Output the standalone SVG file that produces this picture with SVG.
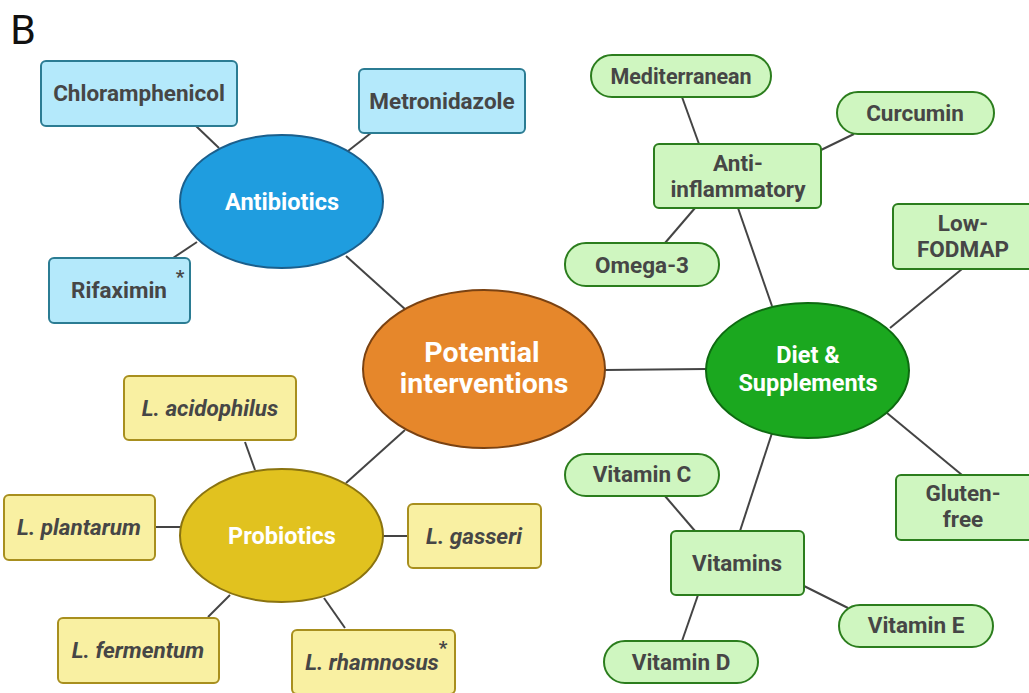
<svg xmlns="http://www.w3.org/2000/svg" width="1029" height="693" viewBox="0 0 1029 693">
<style>
text{font-family:Roboto,"Liberation Sans",sans-serif;font-weight:bold;text-anchor:middle}
.t{fill:#464646;font-size:22.5px}
.w{fill:#ffffff;font-size:23.5px}
.it{font-style:italic}
.blue{fill:#b4e9fb;stroke:#2b7c93;stroke-width:2}
.yel{fill:#f9f0a2;stroke:#a88f1e;stroke-width:2}
.grn{fill:#cff6c0;stroke:#2b7d1d;stroke-width:2}
.ln{stroke:#444;stroke-width:2;fill:none}
</style>
<rect width="1029" height="693" fill="#ffffff"/>
<text x="23" y="44" style="font-family:Roboto,'Liberation Sans',sans-serif;font-weight:normal;font-size:41px;fill:#111">B</text>
<g id="connectors">
<line class="ln" x1="196" y1="126" x2="219" y2="148"/>
<line class="ln" x1="371" y1="133" x2="348" y2="151"/>
<line class="ln" x1="173" y1="258" x2="197" y2="242"/>
<line class="ln" x1="346" y1="256" x2="406" y2="310"/>
<line class="ln" x1="605" y1="370" x2="706" y2="369"/>
<line class="ln" x1="346" y1="483" x2="405" y2="430"/>
<line class="ln" x1="245" y1="442" x2="255" y2="470"/>
<line class="ln" x1="155" y1="527" x2="180" y2="527"/>
<line class="ln" x1="383" y1="536" x2="408" y2="536"/>
<line class="ln" x1="208" y1="617" x2="230" y2="595"/>
<line class="ln" x1="324" y1="598" x2="345" y2="628"/>
<line class="ln" x1="682" y1="97" x2="699" y2="144"/>
<line class="ln" x1="854" y1="134" x2="821" y2="150"/>
<line class="ln" x1="695" y1="208" x2="665" y2="243"/>
<line class="ln" x1="738" y1="208" x2="772" y2="306"/>
<line class="ln" x1="962" y1="269" x2="890" y2="328"/>
<line class="ln" x1="772" y1="433" x2="740" y2="531"/>
<line class="ln" x1="887" y1="413" x2="962" y2="475"/>
<line class="ln" x1="665" y1="496" x2="695" y2="531"/>
<line class="ln" x1="804" y1="586" x2="848" y2="608"/>
<line class="ln" x1="698" y1="595" x2="682" y2="641"/>
</g>
<g id="chloramphenicol"><rect class="blue" x="41" y="61" width="196" height="65" rx="5"/><text class="t" x="139" y="101">Chloramphenicol</text></g>
<g id="metronidazole"><rect class="blue" x="359" y="69" width="166" height="64" rx="5"/><text class="t" x="442" y="109">Metronidazole</text></g>
<g id="rifaximin"><rect class="blue" x="49" y="258" width="141" height="65" rx="5"/><text class="t" x="119" y="298">Rifaximin</text><text class="t" x="180" y="283" style="font-size:19px">*</text></g>
<g id="antibiotics"><ellipse cx="281.5" cy="201.5" rx="101.5" ry="66.5" fill="#1f9ddf" stroke="#1b5f8c" stroke-width="2"/><text class="w" x="282" y="210">Antibiotics</text></g>
<g id="potential"><ellipse cx="484" cy="369" rx="121" ry="79" fill="#e6872b" stroke="#7a4212" stroke-width="2"/><text class="w" x="482" y="362" style="font-size:28.5px">Potential</text><text class="w" x="484" y="393" style="font-size:28.5px">interventions</text></g>
<g id="probiotics"><ellipse cx="281.5" cy="535.5" rx="101.5" ry="66.5" fill="#e1c21f" stroke="#8a7310" stroke-width="2"/><text class="w" x="282" y="544">Probiotics</text></g>
<g id="acidophilus"><rect class="yel" x="124" y="376" width="172" height="64" rx="5"/><text class="t it" x="210" y="416">L. acidophilus</text></g>
<g id="plantarum"><rect class="yel" x="4" y="495" width="151" height="65" rx="5"/><text class="t it" x="79" y="535">L. plantarum</text></g>
<g id="gasseri"><rect class="yel" x="408" y="504" width="133" height="64" rx="5"/><text class="t it" x="474" y="544">L. gasseri</text></g>
<g id="fermentum"><rect class="yel" x="58" y="618" width="161" height="65" rx="5"/><text class="t it" x="138" y="658">L. fermentum</text></g>
<g id="rhamnosus"><rect class="yel" x="292" y="630" width="163" height="64" rx="5"/><text class="t it" x="372" y="670">L. rhamnosus</text><text class="t" x="443" y="654" style="font-size:19px">*</text></g>
<g id="diet"><ellipse cx="807.5" cy="370.5" rx="101.5" ry="67.5" fill="#1ba81f" stroke="#0e6a11" stroke-width="2"/><text class="w" x="808" y="363">Diet &amp;</text><text class="w" x="808" y="391">Supplements</text></g>
<g id="antiinflammatory"><rect class="grn" x="654" y="144" width="167" height="64" rx="5"/><text class="t" x="738" y="171">Anti-</text><text class="t" x="738" y="197">inflammatory</text></g>
<g id="mediterranean"><rect class="grn" x="591" y="55" width="180" height="42" rx="21"/><text class="t" x="681" y="84" style="font-size:21.5px">Mediterranean</text></g>
<g id="curcumin"><rect class="grn" x="837" y="92" width="157" height="42" rx="21"/><text class="t" x="915" y="121">Curcumin</text></g>
<g id="omega3"><rect class="grn" x="565" y="243" width="154" height="43" rx="21"/><text class="t" x="642" y="273">Omega-3</text></g>
<g id="lowfodmap"><rect class="grn" x="893" y="204" width="140" height="65" rx="5"/><text class="t" x="963" y="231">Low-</text><text class="t" x="963" y="257">FODMAP</text></g>
<g id="glutenfree"><rect class="grn" x="896" y="475" width="137" height="65" rx="5"/><text class="t" x="963" y="501">Gluten-</text><text class="t" x="963" y="527">free</text></g>
<g id="vitamins"><rect class="grn" x="671" y="531" width="133" height="64" rx="5"/><text class="t" x="737" y="571">Vitamins</text></g>
<g id="vitaminc"><rect class="grn" x="565" y="454" width="154" height="42" rx="21"/><text class="t" x="642" y="482">Vitamin C</text></g>
<g id="vitamine"><rect class="grn" x="839" y="605" width="154" height="42" rx="21"/><text class="t" x="916" y="633">Vitamin E</text></g>
<g id="vitamind"><rect class="grn" x="604" y="641" width="154" height="42" rx="21"/><text class="t" x="681" y="670">Vitamin D</text></g>
</svg>
